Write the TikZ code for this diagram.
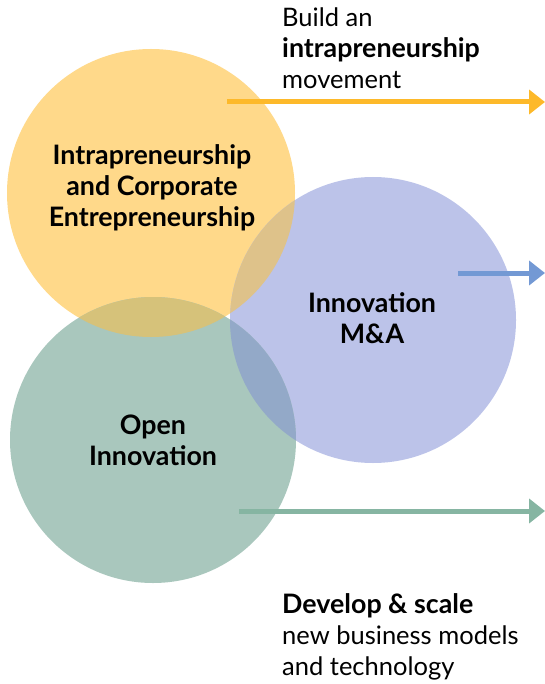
\documentclass[tikz,border=0pt]{standalone}
\usepackage{fontspec}
\setmainfont{Lato}
\usetikzlibrary{arrows.meta}
\definecolor{cy}{HTML}{FFD98A}
\definecolor{cb}{HTML}{BCC3E9}
\definecolor{cg}{HTML}{A9C7BD}
\definecolor{cyb}{HTML}{DEC28A}
\definecolor{cyg}{HTML}{D6C27A}
\definecolor{cbg}{HTML}{93A9C8}
\definecolor{cybg}{HTML}{B3B08E}
\definecolor{ay}{HTML}{FDB92A}
\definecolor{ab}{HTML}{7399D4}
\definecolor{ag}{HTML}{86B5A2}
\newcommand{\bfs}{\bfseries\fontsize{26.8}{31}\selectfont}
\tikzset{
  lbl/.style={font=\bfs, align=center, inner sep=0pt},
  side/.style={font=\fontsize{25.5}{31}\selectfont, align=left, anchor=west, inner sep=0pt},
  arr/.style={line width=5pt, -{Triangle[length=16pt,width=24pt]}},
}
\begin{document}
\begin{tikzpicture}[x=1pt,y=-1pt]
\useasboundingbox (0,0) rectangle (545,684);
\def\Y{(151,193) circle (144)}
\def\B{(373,320) circle (143)}
\def\G{(153,440) circle (143)}
\fill[cy] \Y;
\fill[cb] \B;
\fill[cg] \G;
\begin{scope}\clip \Y; \fill[cyb] \B; \end{scope}
\begin{scope}\clip \Y; \fill[cyg] \G; \end{scope}
\begin{scope}\clip \B; \fill[cbg] \G; \end{scope}
\begin{scope}\clip \Y; \clip \B; \fill[cybg] \G; \end{scope}
\node[lbl] (ly) at (152,188) {Intrapreneurship\\and Corporate\\Entrepreneurship};
\node[lbl] (lb) at (372,318) {Innovation\\M\&A};
\node[lbl] (lg) at (153,440) {Open\\Innovation};
\node[side] (tt) at (282,48) {Build an\\{\bfs intrapreneurship}\\movement};
\node[side] (bt) at (282,637) {{\bfs Develop \& scale}\\new business models\\and technology};
\coordinate (ys) at (227,102); \coordinate (ye) at (545,102);
\coordinate (bs) at (458,273); \coordinate (be) at (545,273);
\coordinate (gs) at (239,511); \coordinate (ge) at (545,511);
\draw[arr, ay] (ys) -- (ye);
\draw[arr, ab] (bs) -- (be);
\draw[arr, ag] (gs) -- (ge);
\end{tikzpicture}
\end{document}
